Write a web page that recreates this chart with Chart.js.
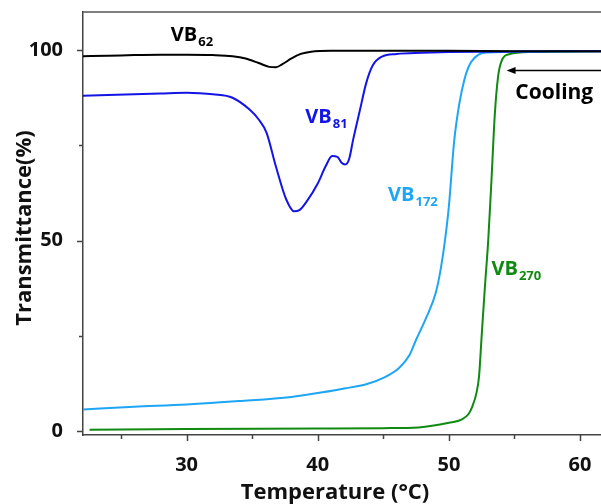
<!DOCTYPE html>
<html>
<head>
<meta charset="utf-8">
<script src="https://cdn.jsdelivr.net/npm/chart.js@4"></script>
<style>
  body { margin: 0; background: #fff; }
</style>
</head>
<body>
<canvas id="chart" width="601" height="504"></canvas>
<script>
// Temperature (°C) and transmittance (%)
const vb62X = [22.1, 24, 26, 28, 30, 32, 33.5, 34.5, 35.5, 36.3, 36.8, 37.3, 38, 38.7, 39.5, 41, 45, 50, 55, 61.6];
const vb62Y = [98.4, 98.5, 98.7, 98.8, 98.8, 98.7, 98.4, 97.8, 96.6, 95.6, 95.5, 96.3, 97.8, 99.0, 99.6, 99.8, 99.8, 99.8, 99.7, 99.7];

const vb81X = [22.1, 24, 26, 28, 30, 31, 32, 33.5, 34.8, 35.5, 36.1, 36.8, 37.6, 38.2, 38.6, 39.2, 40, 40.6, 41.1, 41.5, 41.8, 42.1, 42.4, 42.7, 43.2, 43.7, 44.2, 44.9, 46, 48, 50, 52.5, 61.6];
const vb81Y = [88.0, 88.2, 88.4, 88.6, 88.8, 88.7, 88.4, 87.5, 84.4, 81.8, 78.3, 69.6, 60.8, 57.7, 58.0, 60.5, 65.0, 69.5, 72.2, 72.0, 70.5, 70.0, 71.5, 76.5, 84.0, 91.4, 96.0, 98.3, 99.0, 99.3, 99.5, 99.6, 99.7];

const vb172X = [22.1, 26, 30, 34, 38, 40, 42, 43.7, 45, 46.2, 47, 47.5, 48.3, 49.0, 49.4, 49.7, 50.0, 50.4, 50.8, 51.2, 51.6, 52.3, 53, 56, 61.6];
const vb172Y = [5.7, 6.4, 7.0, 7.9, 9.0, 10.0, 11.2, 12.3, 14.0, 16.6, 20.0, 24.0, 30.0, 36.3, 43.0, 50.0, 59.0, 76.0, 86.0, 92.5, 96.3, 98.9, 99.4, 99.6, 99.7];

const vb270X = [22.6, 30, 40, 45, 47.7, 50, 51, 51.5, 51.8, 52.1, 52.3, 52.5, 52.75, 53.0, 53.25, 53.5, 53.75, 54.0, 54.6, 56.4, 61.6];
const vb270Y = [0.4, 0.6, 0.7, 0.8, 1.0, 2.2, 3.1, 4.5, 6.6, 10.0, 14.4, 25.0, 38.0, 50.0, 66.0, 83.0, 93.0, 97.0, 98.9, 99.5, 99.7];

const xTicks = [30, 40, 50, 60];
const xMinorTicks = [25, 35, 45, 55];
const yTicks = [0, 50, 100];
const yMinorTicks = [25, 75];

const FONT = '"Open Sans", sans-serif';

function pts(xs, ys) {
    return xs.map((x, i) => ({ x: x, y: ys[i] }));
}

function series(label, xs, ys, color) {
    return {
        label: label,
        data: pts(xs, ys),
        showLine: true,
        borderColor: color,
        borderWidth: 2,
        pointRadius: 0,
        cubicInterpolationMode: 'monotone',
    };
}

// curve labels with subscripts, placed in data units
const curveLabels = [
    { main: 'VB', sub: '62', x: 28.8, y: 102.4, color: '#000000' },
    { main: 'VB', sub: '81', x: 39.05, y: 80.9, color: '#1414e6' },
    { main: 'VB', sub: '172', x: 45.36, y: 60.4, color: '#1ea6f5' },
    { main: 'VB', sub: '270', x: 53.25, y: 41.1, color: '#118a11' },
];

const decorations = {
    id: 'decorations',
    afterDraw(chart) {
        const ctx = chart.ctx;
        const xs = chart.scales.x;
        const ys = chart.scales.y;
        const area = chart.chartArea;
        ctx.save();
        // frame top line
        ctx.strokeStyle = '#555';
        ctx.lineWidth = 1.5;
        ctx.beginPath();
        ctx.moveTo(area.left, area.top);
        ctx.lineTo(area.right, area.top);
        ctx.stroke();
        // ticks
        ctx.strokeStyle = '#444';
        ctx.beginPath();
        xTicks.forEach(v => {
            const p = Math.round(xs.getPixelForValue(v)) + 0.5;
            ctx.moveTo(p, area.bottom); ctx.lineTo(p, area.bottom + 6);
        });
        xMinorTicks.forEach(v => {
            const p = Math.round(xs.getPixelForValue(v)) + 0.5;
            ctx.moveTo(p, area.bottom); ctx.lineTo(p, area.bottom + 4);
        });
        yTicks.forEach(v => {
            const p = Math.round(ys.getPixelForValue(v)) + 0.5;
            ctx.moveTo(area.left, p); ctx.lineTo(area.left - 6, p);
        });
        yMinorTicks.forEach(v => {
            const p = Math.round(ys.getPixelForValue(v)) + 0.5;
            ctx.moveTo(area.left, p); ctx.lineTo(area.left - 4, p);
        });
        ctx.stroke();

        // axis titles
        ctx.fillStyle = '#111';
        ctx.font = 'bold 22px ' + FONT;
        ctx.textAlign = 'center';
        ctx.textBaseline = 'alphabetic';
        ctx.fillText('Temperature (°C)', 335, 499);
        ctx.save();
        ctx.translate(31, 228);
        ctx.rotate(-Math.PI / 2);
        ctx.fillText('Transmittance(%)', 0, 0);
        ctx.restore();

        // curve labels
        ctx.textAlign = 'left';
        curveLabels.forEach(l => {
            const px = xs.getPixelForValue(l.x);
            const py = ys.getPixelForValue(l.y);
            ctx.fillStyle = l.color;
            ctx.font = 'bold 20px ' + FONT;
            ctx.fillText(l.main, px, py);
            const w = ctx.measureText(l.main).width;
            ctx.font = 'bold 13px ' + FONT;
            ctx.fillText(l.sub, px + w + 1, py + 5);
        });

        // cooling arrow
        const ay = Math.round(ys.getPixelForValue(94.75)) + 0.5;
        const ax = xs.getPixelForValue(54.4);
        ctx.strokeStyle = '#000';
        ctx.fillStyle = '#000';
        ctx.lineWidth = 1.5;
        ctx.beginPath();
        ctx.moveTo(ax + 6, ay);
        ctx.lineTo(area.right, ay);
        ctx.stroke();
        ctx.beginPath();
        ctx.moveTo(ax, ay);
        ctx.lineTo(ax + 9, ay - 3.5);
        ctx.lineTo(ax + 9, ay + 3.5);
        ctx.closePath();
        ctx.fill();
        ctx.font = 'bold 21px ' + FONT;
        ctx.fillText('Cooling', xs.getPixelForValue(55.07), ys.getPixelForValue(87.3));
        ctx.restore();
    }
};

const chart = new Chart(document.getElementById('chart'), {
    type: 'scatter',
    data: {
        datasets: [
            series('VB62', vb62X, vb62Y, '#000000'),
            series('VB81', vb81X, vb81Y, '#1414e6'),
            series('VB172', vb172X, vb172Y, '#1ea6f5'),
            series('VB270', vb270X, vb270Y, '#118a11'),
        ]
    },
    options: {
        responsive: false,
        animation: false,
        layout: {
            padding: { top: 12, right: 0, left: 0, bottom: 0 }
        },
        plugins: {
            legend: { display: false },
            tooltip: { enabled: false },
        },
        scales: {
            x: {
                type: 'linear',
                min: 22.1,
                max: 61.6,
                afterBuildTicks: s => { s.ticks = xTicks.map(v => ({ value: v })); },
                afterFit: s => { s.height = 69; s.paddingLeft = 0; s.paddingRight = 0; },
                grid: { display: false },
                border: { display: true, color: '#444', width: 1.5 },
                ticks: {
                    color: '#111',
                    padding: 10,
                    maxRotation: 0,
                    font: { family: FONT, size: 20, weight: 'bold' },
                },
            },
            y: {
                type: 'linear',
                min: -1,
                max: 110,
                afterBuildTicks: s => { s.ticks = yTicks.map(v => ({ value: v })); },
                afterFit: s => { s.width = 83; s.paddingTop = 0; s.paddingBottom = 0; },
                grid: { display: false },
                border: { display: true, color: '#444', width: 1.5 },
                ticks: {
                    color: '#111',
                    padding: 12,
                    font: { family: FONT, size: 20, weight: 'bold' },
                },
            },
        },
    },
    plugins: [decorations],
});
</script>
</body>
</html>
